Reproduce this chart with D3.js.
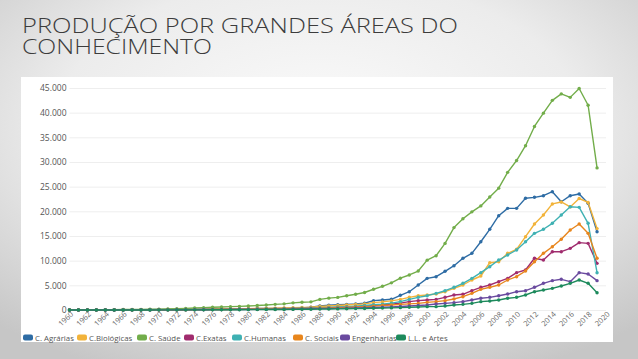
<!DOCTYPE html>
<html><head><meta charset="utf-8">
<script src="https://cdn.jsdelivr.net/npm/d3@7"></script>
<style>html,body{margin:0;padding:0;overflow:hidden;}</style>
</head><body>
<svg id="c" width="638" height="359"></svg>
<script>
const years = d3.range(1960, 2020);
const xTickYears = d3.range(1960, 2021, 2);
const yTicks = [0, 5000, 10000, 15000, 20000, 25000, 30000, 35000, 40000, 45000];
const seriesNames = ["C. Agrárias", "C.Biológicas", "C. Saúde", "C.Exatas", "C.Humanas", "C. Sociais", "Engenharias", "L.L. e Artes"];
const seriesColors = ["#2e6ca4", "#f2b33a", "#72ad4a", "#a02c6e", "#3fb1b3", "#e8861d", "#6a4a9f", "#1d8a5c"];
const titleLines = ["PRODUÇÃO POR GRANDES ÁREAS DO", "CONHECIMENTO"];

const agrarias = [20,25,30,35,40,45,50,60,70,80, 90,100,110,130,150,170,190,210,230,250,
 270,290,310,330,350,380,400,550,810,950, 1070,1150,1220,1360,1890,2030,2170,2980,3710,5070,
 6420,6750,7840,8980,10480,11490,13840,16360,19110,20600, 20600,22640,22840,23170,23980,21950,23170,23510,21630,15870];
const biologicas = [15,20,25,30,35,40,45,50,60,70, 80,90,100,110,130,150,170,190,210,240,
 270,300,330,360,400,450,500,560,700,800, 900,1000,1100,1250,1500,1650,1850,2160,2570,2900,
 3040,3240,3710,4390,5070,6080,6890,9590,9790,11490, 12300,14860,17430,19260,21500,21900,20900,22600,21800,16500];
const saude = [30,40,50,60,70,80,90,100,120,140, 170,200,260,320,400,480,550,620,680,740,
 820,900,1000,1150,1250,1450,1560,1650,2150,2400, 2550,2900,3200,3550,4200,4800,5500,6450,7100,7900,
 10100,11000,13500,16700,18500,19900,21100,22900,24700,27900, 30300,33300,37200,39900,42500,43800,43100,44900,41500,28800];
const exatas = [10,12,15,18,20,22,25,30,35,40, 45,50,60,70,80,90,100,115,130,150,
 170,190,210,230,250,280,310,350,420,480, 540,600,680,760,900,1050,1200,1400,1690,1890,
 2030,2160,2570,3040,3180,3910,4600,5070,5740,6420, 7570,8110,10480,10130,11820,11820,12500,13650,13510,9460];
const humanas = [10,12,15,18,20,22,25,30,35,40, 45,50,60,70,80,90,100,115,130,150,
 170,190,210,240,270,300,340,390,450,520, 600,680,780,900,1050,1200,1400,1690,2160,2570,
 2900,3380,3910,4600,5410,6420,7570,8780,10130,11150, 12160,13840,15540,16360,17570,19260,20940,20810,17570,7560];
const sociais = [8,10,12,14,16,18,20,25,30,35, 40,45,50,60,70,80,90,100,115,130,
 150,170,190,210,230,260,290,330,380,430, 480,540,600,680,780,900,1000,1150,1250,1350,
 1550,1690,1890,2230,2700,3380,4190,4600,5070,6080, 6750,7900,9790,11490,12830,14330,16220,17430,15540,10480];
const engenharias = [5,6,8,10,12,14,16,18,20,25, 30,35,40,45,50,60,70,80,90,100,
 110,120,130,150,170,190,210,240,270,300, 330,370,410,450,500,560,620,700,800,900,
 1010,1220,1350,1490,1690,2030,2370,2570,2900,3240, 3710,3910,4600,5410,5950,6220,5740,7570,7300,5950];
const llArtes = [3,4,5,6,7,8,9,10,12,14, 16,18,20,25,30,35,40,45,50,60,
 70,80,90,100,110,120,140,160,180,200, 220,250,280,310,350,390,430,480,540,600,
 680,680,810,1010,1150,1350,1690,1820,2030,2370, 2570,3040,3710,4050,4390,4860,5410,6080,5410,3510];

const seriesValues = [agrarias, biologicas, saude, exatas, humanas, sociais, engenharias, llArtes];

const svg = d3.select("#c");
const defs = svg.append("defs");
const grad = defs.append("radialGradient").attr("id","bg").attr("cx","50%").attr("cy","35%").attr("r","75%");
grad.append("stop").attr("offset","0%").attr("stop-color","#fbfbfb");
grad.append("stop").attr("offset","55%").attr("stop-color","#ececec");
grad.append("stop").attr("offset","100%").attr("stop-color","#c6c6c6");
svg.append("rect").attr("width",638).attr("height",359).attr("fill","url(#bg)");

// title (single text element, two lines)
const title = svg.append("text").attr("font-family","'Open Sans', sans-serif").attr("font-weight",300)
  .attr("fill","#3c3c3c").attr("font-size",20);
title.append("tspan").attr("x",22).attr("y",33).attr("textLength",436).attr("lengthAdjust","spacingAndGlyphs").text(titleLines[0]);
title.append("tspan").attr("x",22).attr("y",54).attr("textLength",190).attr("lengthAdjust","spacingAndGlyphs").text(titleLines[1]);

// panel
svg.append("rect").attr("x",21).attr("y",77).attr("width",592).attr("height",265).attr("fill","#ffffff");

const x = d3.scaleLinear().domain([1960, 2020]).range([69.5, 606]);
const y = d3.scaleLinear().domain([0, 45000]).range([310, 88]);

const loc = d3.formatLocale({decimal: ",", thousands: ".", grouping: [3], currency: ["", ""]});
const fmt = loc.format(",");

// grid + y axis
const yAxis = d3.axisLeft(y).tickValues(yTicks).tickFormat(fmt).tickSize(-(606 - 69.5)).tickPadding(3);
const gy = svg.append("g").attr("transform","translate(69.5,0)").call(yAxis);
gy.select(".domain").remove();
gy.selectAll(".tick line").attr("stroke","#eeeeee").attr("stroke-width",1);
gy.selectAll(".tick text").attr("font-family","'Open Sans', sans-serif").attr("font-size",8.5).attr("fill","#555");

// x axis
const xAxis = d3.axisBottom(x).tickValues(xTickYears).tickFormat(d3.format("d")).tickSize(0).tickPadding(0);
const gx = svg.append("g").attr("transform","translate(0,312)").call(xAxis);
gx.select(".domain").remove();
gx.selectAll(".tick text")
  .attr("font-family","'Open Sans', sans-serif").attr("font-size",7.5).attr("fill","#666")
  .attr("text-anchor","end").attr("dy","0.6em").attr("dx","0.1em")
  .attr("transform","rotate(-45)");

// lines
const line = d3.line().x((d,i) => x(years[i])).y(d => y(d)).curve(d3.curveLinear);
seriesValues.forEach((vals, k) => {
  const g = svg.append("g");
  g.append("path").datum(vals).attr("d", line).attr("fill","none")
    .attr("stroke", seriesColors[k]).attr("stroke-width",1.4).attr("stroke-linejoin","round");
  g.selectAll("circle").data(vals).join("circle")
    .attr("cx",(d,i) => x(years[i])).attr("cy", d => y(d)).attr("r",1.7)
    .attr("fill", seriesColors[k]);
});

// legend
const legendX = [23, 77, 137, 184, 232, 293, 340, 396];
const lg = svg.append("g").attr("font-family","'Open Sans', sans-serif").attr("font-size",7.8).attr("fill","#555");
seriesNames.forEach((n, k) => {
  lg.append("rect").attr("x",legendX[k]).attr("y",334.5).attr("width",10).attr("height",6).attr("rx",2)
    .attr("fill",seriesColors[k]);
  lg.append("text").attr("x",legendX[k]+12).attr("y",340.5).text(n);
});
</script>
</body></html>
